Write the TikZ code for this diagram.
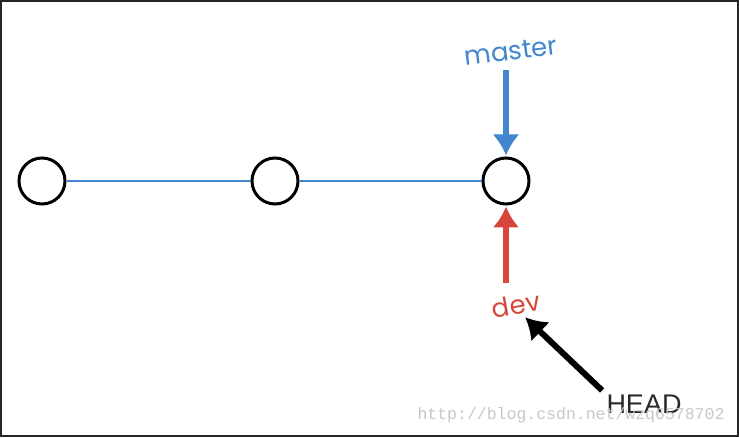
\documentclass[tikz,border=0pt]{standalone}
\usepackage{fontspec}
\setmainfont{Poppins}
\newfontfamily\headfont{Liberation Sans}
\newfontfamily\markfont{Liberation Mono}
\usetikzlibrary{arrows.meta}
\definecolor{gitblue}{RGB}{66,134,205}
\definecolor{gitred}{RGB}{214,70,60}
\definecolor{headgray}{RGB}{40,40,40}
\begin{document}
\begin{tikzpicture}[x=1pt,y=-1pt,
    commit/.style={circle,draw=black,line width=3pt,minimum size=46pt,inner sep=0pt},
    branch/.style={font=\fontsize{26}{30}\selectfont,inner sep=2pt},
    pointer/.style={->,line width=6pt,>={Latex[length=21pt,width=27pt]}}]
    \useasboundingbox (0,0) rectangle (739,438);
    \draw[line width=2pt,color=black!85] (1,1) rectangle (738,436);

    \path
    (42,181) node[commit] (c1) {}
    (275,181) node[commit] (c2) {}
    (506,181) node[commit] (c3) {}
    (511,51) node[branch,color=gitblue,rotate=7] (master) {master}
    (516,305) node[branch,color=gitred,rotate=10] (dev) {dev}
    (644,404) node[font=\headfont\fontsize{27}{30}\selectfont,color=headgray,inner sep=2pt] (head) {HEAD}
    (571,415) node[font=\markfont\fontsize{16.5}{18}\selectfont,color=black!22] (mark) {http://blog.csdn.net/wzq6578702};

    \draw[color=gitblue, line width=2.8pt]
    (c1) -- (c2)
    (c2) -- (c3);

    % vertical pointers onto the last commit
    \draw[pointer, color=gitblue, shorten <=8pt, shorten >=1pt]
    (c3 |- master.south) -- (c3.north);
    \draw[pointer, color=gitred, shorten <=10pt, shorten >=1pt]
    (c3 |- dev.north) -- (c3.south);
    \draw[pointer, color=black, shorten <=3pt, shorten >=2pt]
    (head.north west) -- (dev.-65);

  \end{tikzpicture}
\end{document}
